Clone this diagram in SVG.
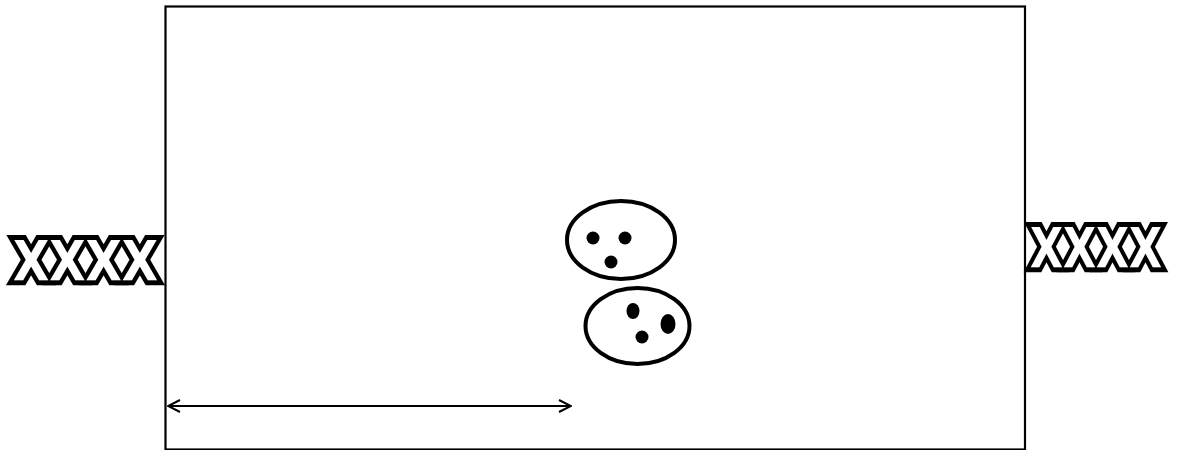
<svg xmlns="http://www.w3.org/2000/svg" width="1179" height="450" viewBox="0 0 1179 450">
<style>
.frame{fill:none;stroke:#000;stroke-width:2.2}
.x{font-family:"DejaVu Sans","Liberation Sans",sans-serif;font-weight:bold;font-size:56px;fill:#fff;stroke:#000;stroke-width:10;stroke-linejoin:miter;paint-order:stroke}
.cell{fill:#fff;stroke:#000;stroke-width:4}
.dot{fill:#000}
.conn{fill:none;stroke:#000;stroke-width:2}
</style>
<defs>
<marker id="head" viewBox="0 0 14 14" refX="13" refY="7" markerWidth="14" markerHeight="14" markerUnits="userSpaceOnUse" orient="auto-start-reverse">
<path d="M1,1 L13,7 L1,13" fill="none" stroke="#000" stroke-width="2"/>
</marker>
</defs>
<rect id="frame" class="frame" x="165.5" y="6.5" width="859.5" height="443"/>
<g id="label-left"><text class="x" x="13" y="280" textLength="145" lengthAdjust="spacingAndGlyphs">XXXX</text></g>
<g id="label-right"><text class="x" x="1030" y="267" textLength="132" lengthAdjust="spacingAndGlyphs">XXXX</text></g>
<g id="cell-top">
<ellipse class="cell" cx="621" cy="240" rx="54" ry="39"/>
<circle class="dot" cx="593" cy="238" r="6.5"/>
<circle class="dot" cx="625" cy="238" r="6.5"/>
<circle class="dot" cx="611" cy="262" r="6.5"/>
</g>
<g id="cell-bottom">
<ellipse class="cell" cx="637.5" cy="326" rx="52" ry="38"/>
<ellipse class="dot" cx="633" cy="311" rx="6.5" ry="8"/>
<ellipse class="dot" cx="668" cy="324" rx="7.5" ry="10"/>
<circle class="dot" cx="642" cy="337" r="6.5"/>
</g>
<g id="connectors">
<line class="conn" x1="168" y1="406" x2="571" y2="406" marker-start="url(#head)" marker-end="url(#head)"/>
</g>
</svg>
